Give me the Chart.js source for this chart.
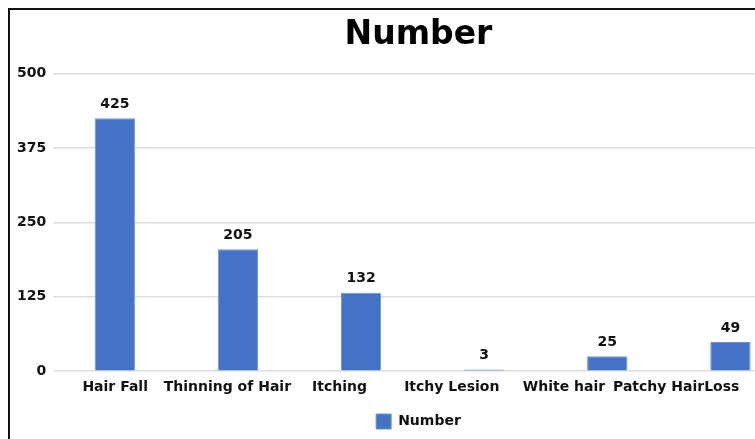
<!DOCTYPE html>
<html>
<head>
<meta charset="utf-8">
<script src="https://cdn.jsdelivr.net/npm/chart.js@4.4.1/dist/chart.umd.min.js"></script>
<style>
    body { margin: 0; background: #fff; overflow: hidden; }
    #frame {
        position: absolute;
        left: 8px;
        top: 8px;
        width: 817px;
        height: 429px;
        border-top: 2px solid #111;
        border-left: 2px solid #111;
    }
</style>
</head>
<body>
<div id="frame"><canvas id="chart"></canvas></div>
<script>
// Données
const categories = ['Hair Fall', 'Thinning of Hair', 'Itching', 'Itchy Lesion', 'White hair', 'Patchy HairLoss'];
const numberValues = [425, 205, 132, 3, 25, 49];
const yTicks = [0, 125, 250, 375, 500];

const FONT = "'DejaVu Sans', Verdana, sans-serif";
const BLUE = '#4472C4';

// Étiquettes de valeur au-dessus des barres
const valueLabels = {
    id: 'valueLabels',
    afterDatasetsDraw(chart) {
        const ctx = chart.ctx;
        ctx.save();
        ctx.font = 'bold 14px ' + FONT;
        ctx.fillStyle = '#111';
        ctx.textAlign = 'center';
        ctx.textBaseline = 'middle';
        chart.getDatasetMeta(0).data.forEach((bar, i) => {
            ctx.fillText(String(numberValues[i]), bar.x, bar.y - 14);
        });
        ctx.restore();
    }
};

new Chart(document.getElementById('chart').getContext('2d'), {
    type: 'bar',
    data: {
        labels: categories,
        datasets: [{
            label: 'Number',
            data: numberValues,
            backgroundColor: BLUE,
            borderColor: '#6f93d6',
            borderWidth: 1,
            barPercentage: 0.42,
            categoryPercentage: 0.78
        }]
    },
    options: {
        responsive: true,
        maintainAspectRatio: false,
        animation: false,
        layout: { padding: 0 },
        plugins: {
            title: {
                display: true,
                text: 'Number',
                color: '#000',
                font: { family: FONT, size: 33, weight: 'bold' },
                padding: { top: 6, bottom: 18 }
            },
            legend: {
                position: 'bottom',
                labels: {
                    boxWidth: 15,
                    boxHeight: 15,
                    padding: 18,
                    color: '#111',
                    font: { family: FONT, size: 14, weight: 'bold' }
                }
            },
            tooltip: { enabled: false }
        },
        scales: {
            x: {
                display: false
            },
            // axe des libellés (espacement plus serré que les barres)
            xLabels: {
                type: 'linear',
                position: 'bottom',
                offset: false,
                bounds: 'data',
                min: -0.552,
                max: 6.032,
                afterBuildTicks: scale => { scale.ticks = categories.map((c, i) => ({ value: i })); },
                grid: { display: false, offset: false },
                border: { display: false },
                ticks: {
                    autoSkip: false,
                    maxRotation: 0,
                    padding: 0,
                    color: '#111',
                    font: { family: FONT, size: 14, weight: 'bold' },
                    callback: v => categories[v]
                }
            },
            y: {
                min: yTicks[0],
                max: yTicks[yTicks.length - 1],
                afterBuildTicks: scale => { scale.ticks = yTicks.map(v => ({ value: v })); },
                grid: { color: '#dedede', lineWidth: 1.5, drawTicks: false },
                border: { display: false },
                ticks: {
                    padding: 7,
                    color: '#111',
                    font: { family: FONT, size: 14, weight: 'bold' }
                }
            },
            // marge droite : la zone de tracé déborde du cadre
            yRight: {
                position: 'right',
                grid: { display: false },
                border: { display: false },
                ticks: { display: false },
                afterFit: scale => { scale.width = 35; }
            }
        }
    },
    plugins: [valueLabels]
});
</script>
</body>
</html>
